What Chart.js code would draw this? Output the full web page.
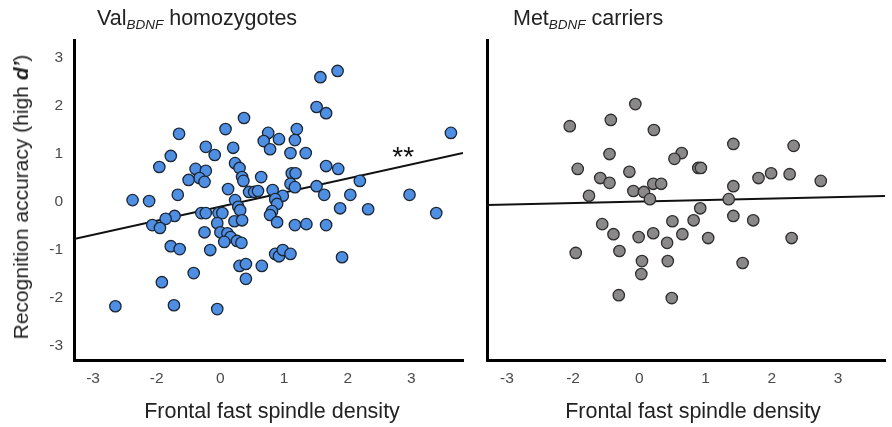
<!DOCTYPE html>
<html lang="en">
<head>
  <meta charset="UTF-8" />
  <title>Fast spindle density and recognition accuracy</title>
  <script src="https://cdn.jsdelivr.net/npm/chart.js"></script>
  <style>
    body {
      margin: 0;
      background: #fff;
      font-family: 'Liberation Sans', Arial, sans-serif;
      color: #222;
    }
    #wrap { position: relative; width: 892px; height: 427px; overflow: hidden; }
    .panel { position: absolute; top: 0; height: 427px; }
    .title { position: absolute; top: 6px; font-size: 21.5px; white-space: nowrap; }
    .title sub { font-style: italic; font-size: 13.5px; vertical-align: -4px; }
    .xlab { position: absolute; top: 399px; font-size: 21.5px; white-space: nowrap; transform: translateX(-50%); }
    .ylab {
      position: absolute; left: 21px; top: 197px; font-size: 21px; white-space: nowrap;
      transform: translate(-50%, -50%) rotate(-90deg);
    }
  </style>
</head>
<body>
<div id="wrap">
  <div class="panel" style="left:0;width:470px"><canvas id="valChart"></canvas></div>
  <div class="panel" style="left:470px;width:422px"><canvas id="metChart"></canvas></div>

  <div class="title" style="left:97px">Val<sub>BDNF</sub> homozygotes</div>
  <div class="title" style="left:513px">Met<sub>BDNF</sub> carriers</div>
  <div class="ylab">Recognition accuracy (high <b><i>d’</i></b>)</div>
  <div class="xlab" style="left:272px">Frontal fast spindle density</div>
  <div class="xlab" style="left:693px">Frontal fast spindle density</div>
</div>

<script>
  // axis ticks (labels as printed in the figure)
  const xTickPos = [-2, -1, 0, 1, 2, 3];
  const xTickLabels = ['-3', '-2', '0', '1', '2', '3'];
  const yTicks = [-3, -2, -1, 0, 1, 2, 3];

  // Val/Val group
  const valX = [1.57, 1.84, 1.51, 1.66, 0.37, 0.08, -0.65, 0.75, 1.20, 0.68,
                0.92, 1.17, 0.78, -0.23, 0.20, -0.09, 1.10, 1.34, -0.78, 3.62,
                -0.96, 0.23, 0.30, -0.39, -0.23, -0.33, -0.25, -0.50, 0.34, 0.36,
                1.66, 1.85, 1.12, 1.18, 2.19, 0.64, 0.12, 0.45, 0.53, 0.59,
                0.82, 1.10, 1.17, 1.51, -0.67, 1.63, 2.04, 2.97, -1.38, -1.12,
                0.23, 0.98, 0.86, 0.89, 0.81, 0.78, 1.88, 2.32, 3.39, 0.28,
                0.31, -0.30, -0.23, -0.03, 0.03, -0.72, -0.86, -1.07, -0.95, -0.05,
                0.22, 0.34, 0.89, 1.17, 1.35, 1.66, -0.25, 0.00, 0.11, 0.16,
                0.06, 0.26, 0.33, -0.78, -0.64, -0.16, 0.86, 0.92, 0.98, 1.10,
                1.91, 0.30, 0.40, 0.65, -0.42, 0.40, -0.92, -1.65, -0.73, -0.05];
  const valY = [2.60, 2.73, 1.98, 1.85, 1.75, 1.52, 1.42, 1.44, 1.52, 1.27,
                1.31, 1.29, 1.10, 1.15, 1.13, 0.98, 1.02, 1.02, 0.96, 1.44,
                0.73, 0.81, 0.71, 0.69, 0.65, 0.50, 0.42, 0.46, 0.52, 0.44,
                0.75, 0.69, 0.60, 0.60, 0.44, 0.52, 0.27, 0.21, 0.21, 0.23,
                0.25, 0.38, 0.31, 0.33, 0.15, 0.15, 0.15, 0.15, 0.04, 0.02,
                0.04, 0.13, 0.06, -0.04, -0.19, -0.27, -0.13, -0.15, -0.23, -0.10,
                -0.17, -0.23, -0.23, -0.23, -0.23, -0.29, -0.35, -0.48, -0.54, -0.44,
                -0.40, -0.38, -0.42, -0.48, -0.46, -0.48, -0.63, -0.63, -0.65, -0.73,
                -0.83, -0.81, -0.85, -0.92, -0.98, -1.00, -1.08, -1.13, -1.00, -1.08,
                -1.15, -1.33, -1.29, -1.33, -1.48, -1.60, -1.67, -2.17, -2.15, -2.23];
  const valFitX = [-2.30, 3.81];
  const valFitY = [-0.77, 1.02];

  // Met carriers
  const metX = [-1.05, -0.43, -0.06, 0.22, -0.45, 0.64, 0.53, 1.42, 2.33, -0.93,
                -0.59, -0.45, -0.15, 0.89, 0.93, 0.21, 0.33, -0.09, 0.07, 0.16,
                -0.76, 1.80, 1.99, 2.27, 2.74, 1.42, 1.35, 0.92, -0.56, -0.39,
                -0.01, 0.21, 0.50, 0.82, 1.42, 1.72, 0.65, 0.42, 1.04, 2.30,
                -0.96, -0.30, 0.04, 0.43, 1.56, 0.03, -0.31, 0.49];
  const metY = [1.58, 1.71, 2.04, 1.50, 1.00, 1.02, 0.90, 1.21, 1.17, 0.69,
                0.50, 0.40, 0.63, 0.71, 0.71, 0.38, 0.38, 0.23, 0.21, 0.06,
                0.13, 0.50, 0.60, 0.58, 0.44, 0.33, 0.06, -0.13, -0.46, -0.67,
                -0.73, -0.65, -0.40, -0.38, -0.29, -0.38, -0.67, -0.85, -0.75, -0.75,
                -1.06, -1.02, -1.23, -1.23, -1.27, -1.50, -1.94, -2.00];
  const metFitX = [-2.30, 3.71];
  const metFitY = [-0.06, 0.125];

  const sig = { text: '**', x: 2.87, y: 1.08 };

  const font = "'Liberation Sans', Arial, sans-serif";

  const starPlugin = {
    id: 'star',
    afterDatasetsDraw(chart, args, opts) {
      if (!opts.text) return;
      const ctx = chart.ctx;
      const px = chart.scales.x.getPixelForValue(opts.x);
      const py = chart.scales.y.getPixelForValue(opts.y);
      ctx.save();
      ctx.font = '28px ' + font;
      ctx.fillStyle = '#111';
      ctx.textAlign = 'center';
      ctx.textBaseline = 'alphabetic';
      ctx.fillText(opts.text, px, py + 28 * 0.55);
      ctx.restore();
    }
  };

  function pairs(xs, ys) {
    return xs.map((x, i) => ({ x: x, y: ys[i] }));
  }

  function makeChart(id, xs, ys, fx, fy, fill, edge, xmax, yWidth, showY, star) {
    return new Chart(document.getElementById(id), {
      type: 'scatter',
      data: {
        datasets: [
          {
            data: pairs(xs, ys),
            backgroundColor: fill,
            borderColor: edge,
            borderWidth: 1.3,
            pointRadius: 5.7,
            pointHoverRadius: 5.7
          },
          {
            type: 'line',
            data: pairs(fx, fy),
            borderColor: '#111',
            borderWidth: 2,
            pointRadius: 0,
            fill: false
          }
        ]
      },
      options: {
        responsive: true,
        maintainAspectRatio: false,
        animation: false,
        layout: { padding: { top: 40, right: showY ? 2 : 0, left: 0, bottom: 0 } },
        plugins: { legend: { display: false }, tooltip: { enabled: false }, star: star },
        scales: {
          x: {
            type: 'linear',
            min: -2.30,
            max: xmax,
            afterBuildTicks: axis => { axis.ticks = xTickPos.map(v => ({ value: v })); },
            afterFit: axis => { axis.height = 67; },
            grid: { display: false, drawTicks: false },
            border: { display: true, color: '#000', width: 3 },
            ticks: {
              padding: 9,
              color: '#4a4a4a',
              font: { family: font, size: 15.5 },
              callback: (v, i) => xTickLabels[i]
            }
          },
          y: {
            type: 'linear',
            min: -3.29,
            max: 3.375,
            afterBuildTicks: axis => { axis.ticks = yTicks.map(v => ({ value: v })); },
            afterFit: axis => { axis.width = yWidth; },
            grid: { display: false, drawTicks: false },
            border: { display: true, color: '#000', width: 3 },
            ticks: {
              display: showY,
              padding: 11,
              color: '#4a4a4a',
              font: { family: font, size: 15.5 }
            }
          }
        }
      },
      plugins: [starPlugin]
    });
  }

  makeChart('valChart', valX, valY, valFitX, valFitY, '#4f8fe3', '#1b2735', 3.81, 74, true, sig);
  makeChart('metChart', metX, metY, metFitX, metFitY, '#8a8888', '#2e2e2e', 3.71, 17, false, {});
</script>
</body>
</html>
